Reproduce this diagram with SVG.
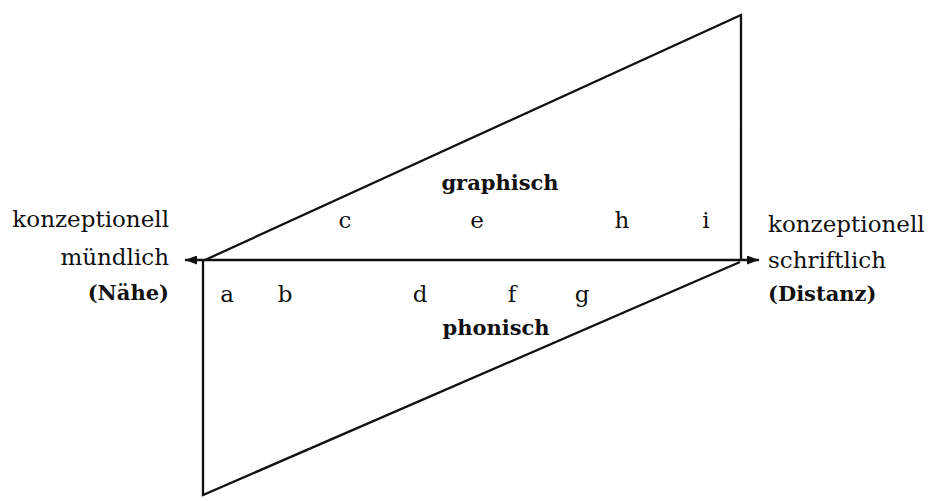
<svg xmlns="http://www.w3.org/2000/svg" width="929" height="501" viewBox="0 0 929 501">
<defs>
<marker id="ah" viewBox="0 0 12 9" refX="12" refY="4.5" markerWidth="12" markerHeight="9" markerUnits="userSpaceOnUse" orient="auto-start-reverse">
<path d="M0,0 L12,4.5 L0,9 Z" fill="#111"/>
</marker>
<style>
.ln{stroke:#111;stroke-width:2.3;fill:none;stroke-linejoin:miter}
.t{font-family:"DejaVu Serif","Liberation Serif",serif;font-size:23px;fill:#111}
.b{font-weight:bold;font-size:21px}
.e{text-anchor:end}
.m{text-anchor:middle}
</style>
</defs>
<rect width="929" height="501" fill="#fff"/>
<g id="connectors">
<polyline class="ln" points="205,260 741,15 741,261"/>
<polyline class="ln" points="203,260 203,495 740,262"/>
<line class="ln" x1="185" y1="260" x2="759" y2="260" marker-start="url(#ah)" marker-end="url(#ah)"/>
</g>
<g id="left-label">
<text class="t e" x="169" y="227">konzeptionell</text>
<text class="t e" x="169" y="265">mündlich</text>
<text class="t e b" x="169" y="300">(Nähe)</text>
</g>
<g id="right-label">
<text class="t" x="768" y="232">konzeptionell</text>
<text class="t" x="768" y="268">schriftlich</text>
<text class="t b" x="768" y="301">(Distanz)</text>
</g>
<g id="graphisch">
<text class="t b m" x="500" y="190">graphisch</text>
<text class="t m" x="345" y="228">c</text>
<text class="t m" x="477" y="228">e</text>
<text class="t m" x="622" y="228">h</text>
<text class="t m" x="706" y="228">i</text>
</g>
<g id="phonisch">
<text class="t b m" x="496" y="335">phonisch</text>
<text class="t m" x="227" y="302">a</text>
<text class="t m" x="285" y="302">b</text>
<text class="t m" x="420" y="302">d</text>
<text class="t m" x="512" y="302">f</text>
<text class="t m" x="582" y="302">g</text>
</g>
</svg>
